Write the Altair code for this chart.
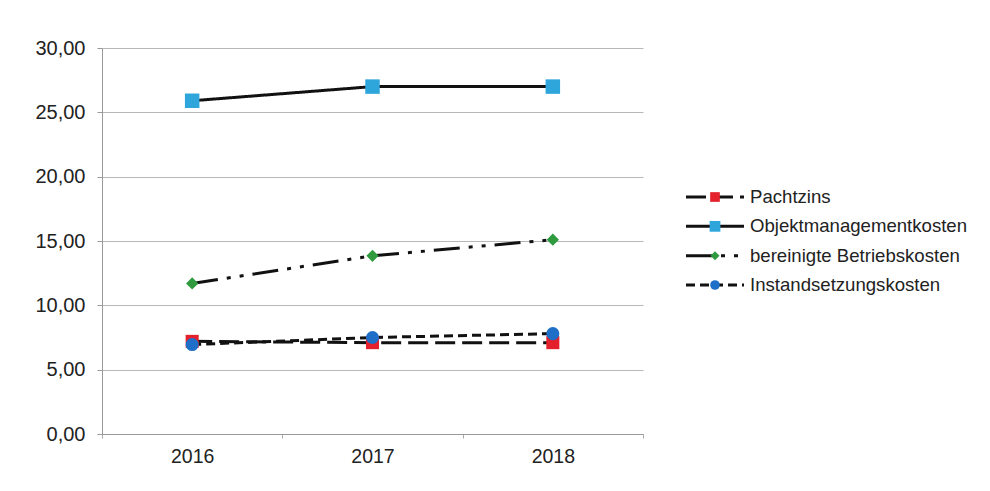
import altair as alt
import pandas as pd

years = ["2016", "2017", "2018"]
series_names = ["Pachtzins", "Objektmanagementkosten", "bereinigte Betriebskosten", "Instandsetzungskosten"]
pachtzins = [7.2, 7.1, 7.1]
objektmanagement = [25.9, 27.0, 27.0]
betriebskosten = [11.7, 13.85, 15.1]
instandsetzung = [6.95, 7.5, 7.8]
y_ticks = [0, 5, 10, 15, 20, 25, 30]

values = [pachtzins, objektmanagement, betriebskosten, instandsetzung]
rows = []
for name, vals in zip(series_names, values):
    for yr, v in zip(years, vals):
        rows.append({"Jahr": yr, "Serie": name, "Wert": v})
df = pd.DataFrame(rows)

styles = {
    "Pachtzins": dict(dash=[20, 7], color="#e3202b", shape="square", size=170),
    "Objektmanagementkosten": dict(dash=[1, 0], color="#2ea6dc", shape="square", size=210),
    "bereinigte Betriebskosten": dict(dash=[26, 9, 4, 9, 4, 9], color="#2f9a3e", shape="diamond", size=150),
    "Instandsetzungskosten": dict(dash=[9, 5], color="#1f6fc8", shape="circle", size=170),
}
draw_order = ["Objektmanagementkosten", "bereinigte Betriebskosten", "Pachtzins", "Instandsetzungskosten"]

FONT = "Liberation Sans"

x_enc = alt.X(
    "Jahr:N",
    scale=alt.Scale(type="band", domain=years, paddingInner=0, paddingOuter=0),
    axis=alt.Axis(title=None, labelAngle=0, tickBand="extent", grid=False,
                  labelFontSize=19.5, labelColor="#222", labelPadding=9,
                  domainColor="#999", tickColor="#aaa", tickSize=4),
)
y_enc = alt.Y(
    "Wert:Q",
    scale=alt.Scale(domain=[0, 30], nice=False),
    axis=alt.Axis(title=None, values=y_ticks,
                  labelExpr="replace(format(datum.value, '.2f'), '.', ',')",
                  grid=True, gridColor="#b8b8b8", gridWidth=1,
                  labelFontSize=20, labelColor="#222", labelPadding=12,
                  domainColor="#999", tickColor="#999", tickSize=5),
)

base = alt.Chart(df)
layers = []
for name in draw_order:
    st = styles[name]
    sub = base.transform_filter(alt.datum.Serie == name)
    layers.append(sub.mark_line(color="#111", strokeWidth=3, strokeDash=st["dash"]).encode(x=x_enc, y=y_enc))
for name in draw_order:
    st = styles[name]
    sub = base.transform_filter(alt.datum.Serie == name)
    layers.append(sub.mark_point(filled=True, opacity=1, shape=st["shape"], size=st["size"], color=st["color"]).encode(x=x_enc, y=y_enc))

main = alt.layer(*layers).properties(width=541, height=386)

leg_df = pd.DataFrame({"Serie": series_names})
leg_base = alt.Chart(leg_df)
y_leg = alt.Y("Serie:N", scale=alt.Scale(type="point", domain=series_names, range=[149, 237], padding=0), axis=None)
leg_layers = []
for name in series_names:
    st = styles[name]
    sub = leg_base.transform_filter(alt.datum.Serie == name)
    leg_layers.append(sub.mark_rule(color="#111", strokeWidth=3, strokeDash=st["dash"]).encode(
        y=y_leg, x=alt.value(0), x2=alt.value(58)))
    leg_layers.append(sub.mark_point(filled=True, opacity=1, shape=st["shape"], size=st["size"] * 0.55, color=st["color"]).encode(
        y=y_leg, x=alt.value(29)))
    leg_layers.append(sub.mark_text(align="left", baseline="middle", fontSize=18.6, font=FONT, color="#222").encode(
        y=y_leg, x=alt.value(64), text="Serie:N"))
legend = alt.layer(*leg_layers).properties(width=270, height=386)

chart = alt.hconcat(main, legend, spacing=40).properties(
    padding={"left": 26, "top": 30, "right": 0, "bottom": 0},
    background="white",
).configure(font=FONT).configure_view(stroke=None)

chart.save("out.html", embed_options={"renderer": "svg", "actions": False})
